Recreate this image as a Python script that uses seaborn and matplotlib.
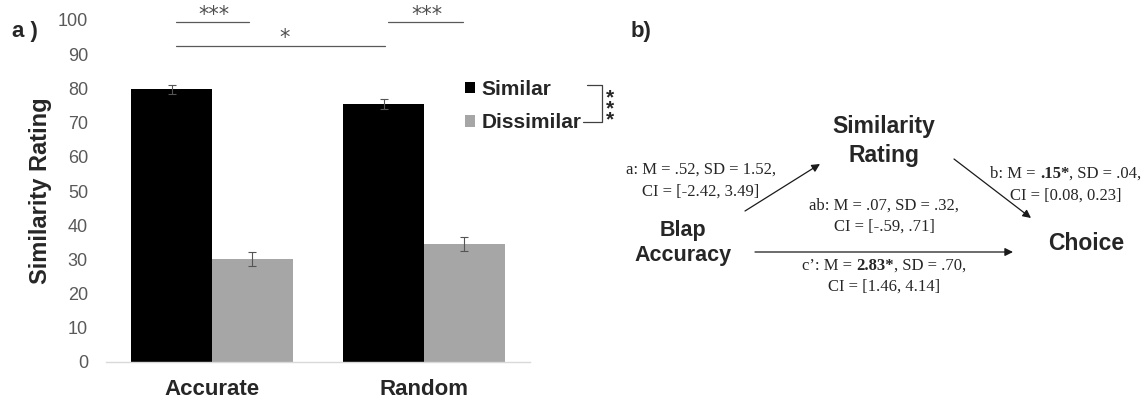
import numpy as np
import pandas as pd
import seaborn as sns
import matplotlib
matplotlib.use('Agg')
import matplotlib.pyplot as plt
from matplotlib.offsetbox import TextArea, HPacker, AnnotationBbox

# data
conditions = ['Accurate', 'Random']
rating_types = ['Similar', 'Dissimilar']
similar_means = [79.7, 75.5]
dissimilar_means = [30.2, 34.5]
similar_err = [1.2, 1.4]
dissimilar_err = [2.1, 2.1]
yticks = list(range(0, 101, 10))

sns.set_style('white')
plt.rcParams['font.family'] = ['Liberation Sans', 'DejaVu Sans']

df = pd.DataFrame({
    'condition': conditions * 2,
    'type': [rating_types[0]] * 2 + [rating_types[1]] * 2,
    'rating': similar_means + dissimilar_means,
})

W, H = 1142, 401
fig = plt.figure(figsize=(W / 100, H / 100), dpi=100)
ax = fig.add_axes([106 / W, 39 / H, 424 / W, 342 / H])

sns.barplot(data=df, x='condition', y='rating', hue='type',
            palette=['#000000', '#a6a6a6'], saturation=1, width=0.764,
            errorbar=None, linewidth=0, ax=ax)

# error bars on top of the bars
for cont, errs in zip(ax.containers, [similar_err, dissimilar_err]):
    xs = [b.get_x() + b.get_width() / 2 for b in cont]
    hs = [b.get_height() for b in cont]
    ax.errorbar(xs, hs, yerr=errs, fmt='none', ecolor='#555555',
                elinewidth=0.8, capsize=3, capthick=0.8)

ax.set_xlim(-0.5, 1.5)
ax.set_ylim(0, 100)
ax.set_yticks(yticks)
ax.set_xlabel('')
ax.set_ylabel('Similarity Rating', fontsize=17, fontweight='bold')
ax.yaxis.set_label_coords(-0.127, 0.5)
for s in ['left', 'right', 'top']:
    ax.spines[s].set_visible(False)
ax.spines['bottom'].set_color('#d9d9d9')
ax.spines['bottom'].set_linewidth(1)
ax.tick_params(axis='y', length=0, labelsize=13, labelcolor='#595959', pad=13)
ax.tick_params(axis='x', length=0, labelsize=16, pad=12)
for lab in ax.get_xticklabels():
    lab.set_fontweight('bold')

sns.move_legend(ax, 'upper left', bbox_to_anchor=(465 / W, (H - 80) / H),
                bbox_transform=fig.transFigure, frameon=False, title=None,
                prop={'weight': 'bold', 'size': 15}, borderpad=0,
                handlelength=0.48, handleheight=0.48, handletextpad=0.33,
                labelspacing=0.69, borderaxespad=0)

# significance lines
star_kw = dict(ha='center', va='center', fontsize=15, color='#505050',
               family='DejaVu Sans')
line_kw = dict(color='#595959', lw=0.9, clip_on=False)
ax.plot([-0.17, 0.175], [99.3, 99.3], **line_kw)
ax.text(0.01, 101.5, '***', **star_kw)
ax.plot([0.83, 1.184], [99.3, 99.3], **line_kw)
ax.text(1.014, 101.5, '***', **star_kw)
ax.plot([-0.17, 0.816], [92.3, 92.3], **line_kw)
ax.text(0.34, 94.8, '*', **star_kw)

# overlay in pixel coordinates for labels and the mediation diagram
ov = fig.add_axes([0, 0, 1, 1])
ov.set_xlim(0, W)
ov.set_ylim(H, 0)
ov.axis('off')

ov.text(25, 32, 'a )', fontsize=16, fontweight='bold', ha='center', va='center')
ov.text(641, 32, 'b)', fontsize=16, fontweight='bold', ha='center', va='center')

# bracket next to legend, stars stacked down its side
ov.plot([587, 602, 602, 583], [85, 85, 122, 122], color='#404040', lw=0.9)
ov.text(610, 109, '*\n*\n*', fontsize=15, fontweight='bold',
        ha='center', va='center', linespacing=0.47)

node_kw = dict(fontweight='bold', ha='center', va='center', linespacing=1.3)
ov.text(884, 141, 'Similarity\nRating', fontsize=16.5, **node_kw)
ov.text(683, 243, 'Blap\nAccuracy', fontsize=15.5, **node_kw)
ov.text(1086, 243, 'Choice', fontsize=16.5, **node_kw)

arrow_kw = dict(arrowstyle='-|>', color='#1a1a1a', lw=0.9,
                mutation_scale=12, shrinkA=0, shrinkB=0)
ov.annotate('', xy=(820, 164), xytext=(745, 211), arrowprops=arrow_kw)
ov.annotate('', xy=(1031, 218), xytext=(954, 159), arrowprops=arrow_kw)
ov.annotate('', xy=(1013, 252), xytext=(755, 252), arrowprops=arrow_kw)

serif = 'Liberation Serif'


def rich_line(x, y, parts):
    areas = []
    for txt, bold in parts:
        props = dict(family=serif, size=12, color='#262626',
                     weight='bold' if bold else 'normal')
        areas.append(TextArea(txt, textprops=props))
    box = HPacker(children=areas, pad=0, sep=0, align='baseline')
    ab = AnnotationBbox(box, (x, y), xycoords='data', frameon=False,
                        box_alignment=(0.5, 0.5), pad=0)
    ov.add_artist(ab)


rich_line(701, 170, [('a: M = .52, SD = 1.52,', False)])
rich_line(701, 192, [('CI = [-2.42, 3.49]', False)])
rich_line(1066, 174, [('b: M = ', False), ('.15*', True), (', SD = .04,', False)])
rich_line(1066, 196, [('CI = [0.08, 0.23]', False)])
rich_line(884, 206, [('ab: M = .07, SD = .32,', False)])
rich_line(884, 227, [('CI = [-.59, .71]', False)])
rich_line(884, 266, [('c\u2019: M = ', False), ('2.83*', True), (', SD = .70,', False)])
rich_line(884, 287, [('CI = [1.46, 4.14]', False)])

fig.savefig('out.png', dpi=100)
